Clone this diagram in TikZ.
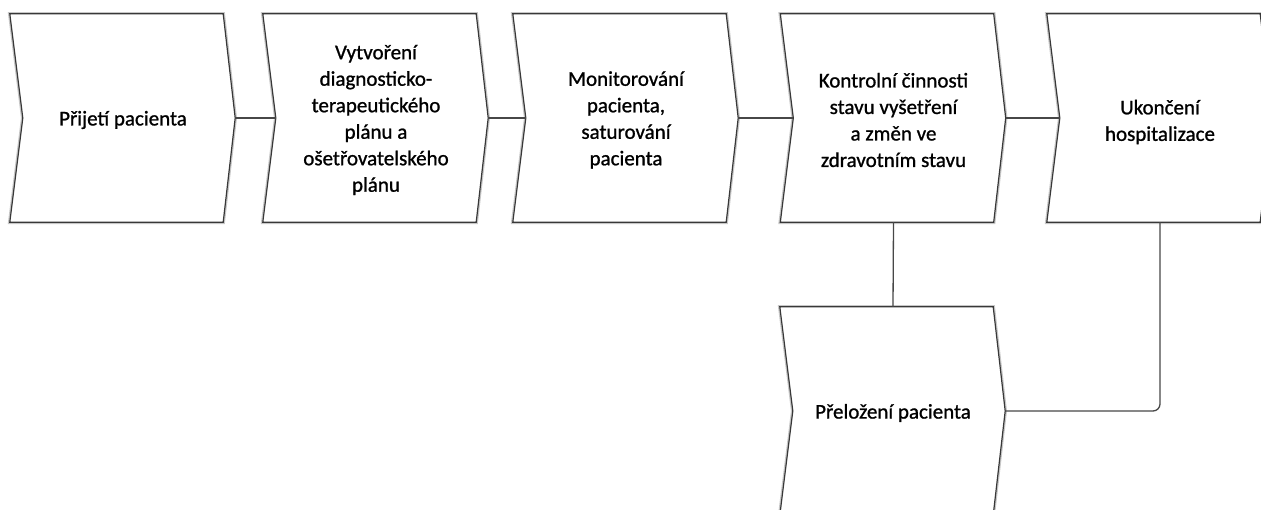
\documentclass[tikz,border=0pt]{standalone}
\usepackage{fontspec}
\setmainfont{Carlito}
\newfontfamily\boxfont{Carlito}[FakeBold=1.0]
\usetikzlibrary{calc}
\begin{document}
\begin{tikzpicture}[x=1pt,y=1pt,
  frame/.style={draw=none, minimum width=213pt, minimum height=208pt, inner sep=0pt},
  outline/.style={draw=black!78, line width=1.2pt, line join=miter, fill=white,
    preaction={draw=black!22, line width=3.6pt}},
  boxtext/.style={align=center, font=\boxfont\fontsize{21}{26.5}\selectfont, inner sep=0pt},
  link/.style={draw=black!72, line width=1.3pt, rounded corners=7pt}
]
\useasboundingbox (0,0) rectangle (1261,-509);

% process boxes: rectangle bodies (top edge to bottom edge)
\node[frame] (b1) at (116.5,-118) {};
\node[frame] (b2) at (369.5,-118) {};
\node[frame] (b3) at (619.5,-118) {};
\node[frame] (b4) at (887,-118) {};
\node[frame] (b5) at (1153.5,-118) {};
\node[frame] (b6) at (886.5,-411) {};

% chevron outlines, inlet notch on the left and point on the right
\foreach \b in {b1,b2,b3,b4,b5,b6}{
  \coordinate (\b-in) at ($(\b.west)+(13,0)$);
  \coordinate (\b-out) at ($(\b.east)+(12,0)$);
  \draw[outline] (\b.north west) -- (\b.north east) -- (\b-out) -- (\b.south east)
    -- (\b.south west) -- (\b-in) -- cycle;
}

% texts
\node[boxtext] (t1) at ($(b1)+(6.5,-2)$) {Přijetí pacienta};
\node[boxtext] (t2) at ($(b2)+(6.5,-2)$) {Vytvoření\\diagnosticko-\\terapeutického\\plánu a\\ošetřovatelského\\plánu};
\node[boxtext] (t3) at ($(b3)+(6.5,-2)$) {Monitorování\\pacienta,\\saturování\\pacienta};
\node[boxtext] (t4) at ($(b4)+(6.5,-2)$) {Kontrolní činnosti\\stavu vyšetření\\a změn ve\\zdravotním stavu};
\node[boxtext] (t5) at ($(b5)+(6.5,-4)$) {Ukončení\\hospitalizace};
\node[boxtext] (t6) at ($(b6)+(6.5,-2)$) {Přeložení pacienta};

% connectors
\draw[link] (b1-out) -- (b2-in);
\draw[link] (b2-out) -- (b3-in);
\draw[link] (b3-out) -- (b4-in);
\draw[link] (b4-out) -- (b5-in);
\draw[link] (b4.south -| t4) -- (b6.north -| t6);
\draw[link] (b6-out) -| (b5.south -| t5);
\end{tikzpicture}
\end{document}
